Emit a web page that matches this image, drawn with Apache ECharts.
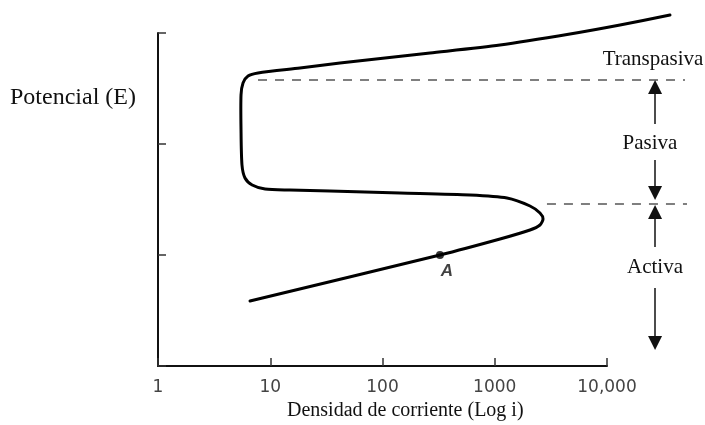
<!DOCTYPE html>
<html><head><meta charset="utf-8">
<script src="https://cdn.jsdelivr.net/npm/echarts@6/dist/echarts.min.js"></script>
<style>html,body{margin:0;padding:0;background:#fff}#c{width:705px;height:425px}</style>
</head><body><div id="c"></div>
<script>
// Polarization curve: current density (log i) vs potential (E, arbitrary units)
const currentDensity = [6.6, 325, 1114, 2061, 2529, 2692, 2529, 2061, 1285, 602, 143, 34, 15, 9.0, 6.9, 5.96, 5.6, 5.49, 5.49, 5.72, 6.34, 7.78, 18.4, 41.8, 265, 1114, 4680, 13060, 36400];
const potential      = [65, 111, 127, 136, 141, 147, 153, 160, 168, 171, 173, 175, 176, 177, 181, 188, 201, 236, 271, 283, 290, 293, 298, 303, 313, 321, 332, 341, 351];
const pointA = [325, 111];
const xTickLabels = {1: '1', 10: '10', 100: '100', 1000: '1000', 10000: '10,000'};
const transpassiveLine = [7.78, 49500, 286];   // from i, to i, E
const activeLine = [2918, 51600, 162];         // from i, to i, E
const arrowX = 26800;
const arrowSegments = [[242, 286], [206, 166], [119, 161], [78, 16]]; // [tail E, tip E]
const regionLabels = ['Transpasiva', 'Pasiva', 'Activa'];

const chart = echarts.init(document.getElementById('c'), null, {renderer: 'canvas'});
const serif = '"Liberation Serif", "Times New Roman", serif';
const curveData = currentDensity.map(function (x, i) { return [x, potential[i]]; });
const headHalf = 7;

const option = {
  animation: false,
  grid: {left: 158, right: 98, top: 33, bottom: 59},
  xAxis: {
    type: 'log', logBase: 10, min: 1, max: 10000,
    axisLine: {lineStyle: {color: '#111', width: 2}},
    axisTick: {inside: true, length: 8, lineStyle: {color: '#333', width: 1.5}},
    splitLine: {show: false}, minorTick: {show: false},
    axisLabel: {
      margin: 13, color: '#444', fontSize: 17, fontFamily: '"DejaVu Sans", sans-serif',
      formatter: function (v) { return xTickLabels[Math.round(v)] || ''; }
    }
  },
  yAxis: {
    type: 'value', min: 0, max: 333, interval: 111,
    axisLine: {show: true, lineStyle: {color: '#111', width: 2}},
    axisTick: {show: true, inside: true, length: 8, lineStyle: {color: '#333', width: 1.5}},
    axisLabel: {show: false}, splitLine: {show: false}
  },
  series: [
    {
      type: 'custom', coordinateSystem: 'cartesian2d', clip: false, silent: true, z: 4,
      data: curveData, encode: {x: 0, y: 1},
      renderItem: function (params, api) {
        if (params.dataIndexInside !== 0) return null;
        const pts = curveData.map(function (p) { return api.coord(p); });
        return {type: 'polyline', shape: {points: pts, smooth: 0.25},
          style: {stroke: '#000', lineWidth: 3, fill: null, lineJoin: 'round', lineCap: 'round'}};
      }
    },
    {
      type: 'lines', coordinateSystem: 'cartesian2d', clip: false, silent: true, symbol: 'none',
      lineStyle: {color: '#555', width: 1.5, type: [9, 8], opacity: 1},
      data: [
        {coords: [[transpassiveLine[0], transpassiveLine[2]], [transpassiveLine[1], transpassiveLine[2]]]},
        {coords: [[activeLine[0], activeLine[2]], [activeLine[1], activeLine[2]]]}
      ]
    },
    {
      type: 'lines', coordinateSystem: 'cartesian2d', clip: false, silent: true,
      symbol: ['none', 'triangle'], symbolSize: [9, 14],
      lineStyle: {color: '#111', width: 1.5, opacity: 1},
      data: arrowSegments.map(function (s) {
        const dir = s[1] > s[0] ? 1 : -1;
        return {coords: [[arrowX, s[0]], [arrowX, s[1] - dir * headHalf]]};
      })
    },
    {
      type: 'scatter', data: [pointA], symbolSize: 8, itemStyle: {color: '#000'}, silent: true, z: 5,
      label: {show: true, formatter: 'A', position: 'bottom', offset: [7, -1], color: '#111',
        fontSize: 17, fontStyle: 'italic', fontWeight: 'bold', fontFamily: '"Liberation Sans", Arial, sans-serif'}
    }
  ],
  graphic: [
    {type: 'text', left: 10, top: 86, style: {text: 'Potencial (E)', font: '24px ' + serif, fill: '#111'}},
    {type: 'text', x: 653, y: 59, style: {text: regionLabels[0], font: '21px ' + serif, fill: '#111', textAlign: 'center', textVerticalAlign: 'middle'}},
    {type: 'text', x: 650, y: 143, style: {text: regionLabels[1], font: '21px ' + serif, fill: '#111', textAlign: 'center', textVerticalAlign: 'middle'}},
    {type: 'text', x: 655, y: 267, style: {text: regionLabels[2], font: '21px ' + serif, fill: '#111', textAlign: 'center', textVerticalAlign: 'middle'}},
    {type: 'text', x: 287, y: 411, style: {text: 'Densidad de corriente (Log i)', font: '20px ' + serif, fill: '#111', textAlign: 'left', textVerticalAlign: 'middle'}}
  ]
};
chart.setOption(option);
</script>
</body></html>
